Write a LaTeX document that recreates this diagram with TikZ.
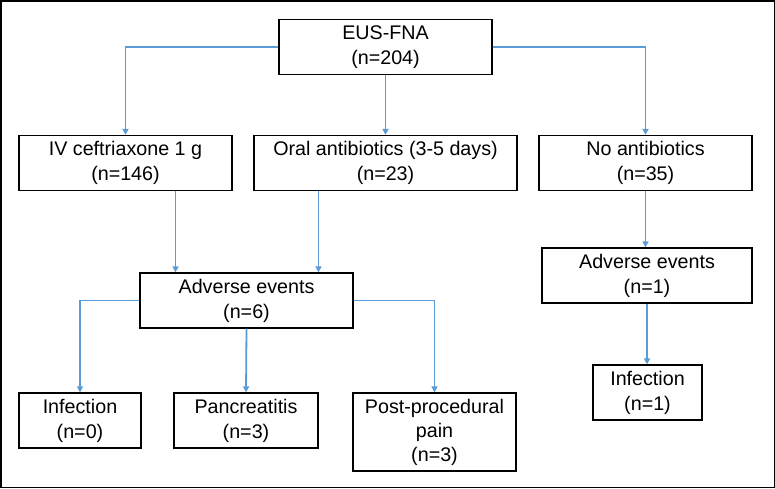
\documentclass[tikz,border=0pt]{standalone}
\usepackage{fontspec}
\setmainfont{Liberation Sans}
\usepackage{tikz}
\usepackage{xcolor}
\usetikzlibrary{arrows.meta}
\definecolor{linkblue}{RGB}{91,155,213}

\begin{document}
\begin{tikzpicture}[x=1pt,y=-1pt,
  box/.style={draw,line width=1.3pt,align=center,inner sep=0pt,execute at begin node={\rule{0pt}{19pt}},font=\fontsize{19.7}{25}\selectfont,minimum height=55pt}, % boxes of the flow chart
  link/.style={draw=linkblue,line width=1.8pt,-{Triangle[length=6pt,width=6pt]}}] % blue arrows
   \useasboundingbox (0,0) rectangle (775,488);
   \draw[line width=1.5pt] (0.75,0.75) rectangle (774.25,487.25); % frame
   % top and second row
   \node[box,minimum width=213pt] (eus) at (385.5,47) {EUS-FNA\\(n=204)};
   \node[box,minimum width=213pt] (iv) at (125.5,163) {IV ceftriaxone 1 g\\(n=146)};
   \node[box,minimum width=263pt] (oral) at (385.5,163) {Oral antibiotics (3-5 days)\\(n=23)};
   \node[box,minimum width=213pt] (none) at (645.5,163) {No antibiotics\\(n=35)};
   % adverse events
   \node[box,minimum width=213pt] (aesix) at (246.5,300.5) {Adverse events\\(n=6)};
   \node[box,minimum width=210pt] (aeone) at (647,275.5) {Adverse events\\(n=1)};
   % bottom row
   \node[box,minimum width=122pt] (infzero) at (80,420.5) {Infection\\(n=0)};
   \node[box,minimum width=144pt] (panc) at (246,420.5) {Pancreatitis\\(n=3)};
   \node[box,minimum width=163pt,minimum height=78pt,font=\fontsize{19.7}{24}\selectfont] (pain) at (434.5,432) {Post-procedural\\pain\\(n=3)};
   \node[box,minimum width=109pt] (infone) at (647.5,392.5) {Infection\\(n=1)};
   % arrows
   \draw[link] (eus.west) -| (iv.north);
   \draw[link] (eus.south) -- (oral.north);
   \draw[link] (eus.east) -| (none.north);
   \draw[link] ([xshift=50pt]iv.south) -- ([xshift=50pt]iv.south |- aesix.north);
   \draw[link] ([xshift=-67pt]oral.south) -- ([xshift=-67pt]oral.south |- aesix.north);
   \draw[link] (aesix.west) -| (infzero.north);
   \draw[link] (aesix.south) -- (panc.north);
   \draw[link] (aesix.east) -| (pain.north);
   \draw[link] (none.south) -- (none.south |- aeone.north);
   \draw[link] (aeone.south) -- (aeone.south |- infone.north);
\end{tikzpicture}
\end{document}
